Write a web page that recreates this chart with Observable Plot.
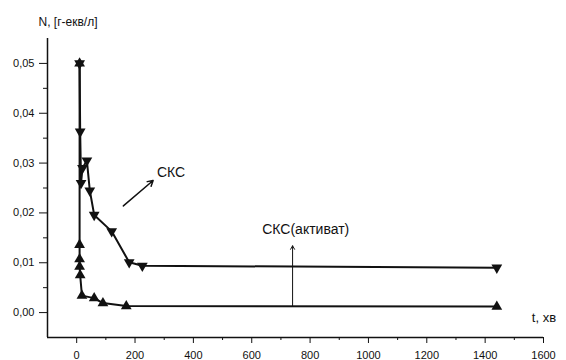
<!DOCTYPE html>
<html><head><meta charset="utf-8">
<script src="https://cdn.jsdelivr.net/npm/d3@7"></script>
<script src="https://cdn.jsdelivr.net/npm/@observablehq/plot@0.6"></script>
<style>
body{margin:0;background:#fff}
svg{font-family:"Liberation Sans",Arial,sans-serif}
</style>
</head><body><div id="chart"></div>
<script>
// СКС (down triangles)
const sksT = [10, 12, 15, 20, 35, 45, 60, 120, 180, 225, 1440];
const sksN = [0.0500, 0.0363, 0.0260, 0.0290, 0.0305, 0.0245, 0.0196, 0.0163, 0.0101, 0.0094, 0.0090];
// СКС(активат) (up triangles)
const actT = [10, 10, 10, 10, 12, 18, 60, 90, 170, 1440];
const actN = [0.0500, 0.0136, 0.0107, 0.0092, 0.0075, 0.0034, 0.0029, 0.0019, 0.0013, 0.0012];

const xTicks = [0, 200, 400, 600, 800, 1000, 1200, 1400, 1600];
const xMinor = [100, 300, 500, 700, 900, 1100, 1300, 1500];
const yTicks = [0, 0.01, 0.02, 0.03, 0.04, 0.05];
const yMinor = [0.005, 0.015, 0.025, 0.035, 0.045];
const xDomain = [-100, 1600];
const yDomain = [-0.005, 0.055];

const yLabel = "N, [г-екв/л]";
const xLabel = "t, хв";
const label1 = "СКС";
const label1Pos = {x: 275, y: 0.0282};
const arrow1 = {x1: 160, y1: 0.0214, x2: 262, y2: 0.0265};
const label2 = "СКС(активат)";
const label2Pos = {x: 785, y: 0.0166};
const arrow2 = {x1: 740, y1: 0.0012, x2: 740, y2: 0.0134};
const xLabelPos = {x: 1560, y: -0.001};

const sks = sksT.map((t, i) => ({t, n: sksN[i]}));
const act = actT.map((t, i) => ({t, n: actN[i]}));
const fmt = d => d3.format(".2f")(d).replace(".", ",");

const chart = Plot.plot({
  width: 566, height: 360,
  marginLeft: 47, marginRight: 23, marginTop: 38, marginBottom: 23,
  style: {fontSize: "11px", color: "#111", fontFamily: "'Liberation Sans', Arial, sans-serif"},
  x: {domain: xDomain},
  y: {domain: yDomain},
  marks: [
    Plot.ruleX([xDomain[0]], {stroke: "#111", strokeWidth: 1.5}),
    Plot.ruleY([yDomain[0]], {stroke: "#111", strokeWidth: 1.5}),
    Plot.axisX({ticks: xTicks, tickSize: 6, tickPadding: 8, tickFormat: d => `${d}`, label: null, fontSize: 11}),
    Plot.axisX({ticks: xMinor, tickSize: 3, tickFormat: () => "", label: null}),
    Plot.axisY({ticks: yTicks, tickSize: 8, tickPadding: 5, tickFormat: fmt, label: null, fontSize: 11}),
    Plot.axisY({ticks: yMinor, tickSize: 4, tickFormat: () => "", label: null}),
    Plot.line(sks, {x: "t", y: "n", stroke: "#111", strokeWidth: 2}),
    Plot.line(act, {x: "t", y: "n", stroke: "#111", strokeWidth: 2}),
    Plot.dot(sks, {x: "t", y: "n", symbol: "triangle", rotate: 180, r: 4, fill: "#111"}),
    Plot.dot(act, {x: "t", y: "n", symbol: "triangle", r: 4, fill: "#111"}),
    Plot.arrow([arrow1], {x1: "x1", y1: "y1", x2: "x2", y2: "y2", stroke: "#111", strokeWidth: 1.5, headLength: 6}),
    Plot.arrow([arrow2], {x1: "x1", y1: "y1", x2: "x2", y2: "y2", stroke: "#111", strokeWidth: 1, headLength: 6}),
    Plot.text([label1Pos], {x: "x", y: "y", text: () => label1, textAnchor: "start", fontSize: 14, fill: "#111"}),
    Plot.text([label2Pos], {x: "x", y: "y", text: () => label2, textAnchor: "middle", fontSize: 14, fill: "#111", style: "letter-spacing:0.5px"}),
    Plot.text([xLabelPos], {x: "x", y: "y", text: () => xLabel, textAnchor: "start", fontSize: 13, fill: "#111"}),
    Plot.text([yLabel], {frameAnchor: "top-left", dx: -9, dy: -21, textAnchor: "start", fontSize: 12, fill: "#111"})
  ]
});
document.getElementById("chart").append(chart);
</script>
</body></html>
